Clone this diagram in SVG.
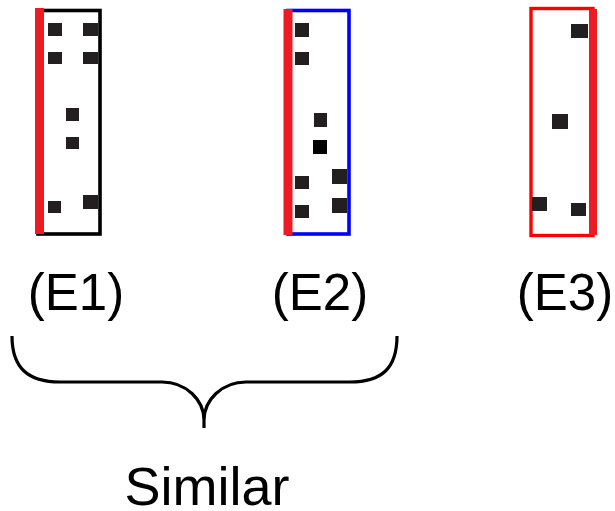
<svg xmlns="http://www.w3.org/2000/svg" width="615" height="511" viewBox="0 0 615 511">
  <style>
    .sq { fill: #231f20; }
    .bar { fill: #ed1c24; }
    .lbl { font-family: "Liberation Sans", Arial, sans-serif; font-size: 51px; fill: #000; text-anchor: middle; }
    .brace { fill: none; stroke: #000; stroke-width: 3.2; stroke-linecap: butt; }
  </style>
  <rect width="615" height="511" fill="#fff"/>

  <!-- E1 -->
  <g id="e1">
    <rect x="38" y="10.5" width="62" height="223.5" fill="none" stroke="#000" stroke-width="3.6"/>
    <rect class="bar" x="35" y="8" width="9" height="226"/>
    <rect class="sq" x="48" y="23" width="14" height="13"/>
    <rect class="sq" x="83" y="23" width="15" height="13"/>
    <rect class="sq" x="48" y="52" width="14" height="12"/>
    <rect class="sq" x="83" y="52" width="15" height="12"/>
    <rect class="sq" x="66" y="108" width="13" height="13"/>
    <rect class="sq" x="66" y="137" width="13" height="12"/>
    <rect class="sq" x="48" y="201" width="13" height="12"/>
    <rect class="sq" x="83" y="195" width="15" height="14"/>
  </g>

  <!-- E2 -->
  <g id="e2">
    <rect x="288" y="10.5" width="61" height="223.5" fill="none" stroke="#0000ff" stroke-width="3.6"/>
    <rect class="bar" x="283.5" y="9" width="9" height="226"/>
    <rect class="sq" x="295" y="23" width="14" height="14"/>
    <rect class="sq" x="295" y="52" width="14" height="13"/>
    <rect class="sq" x="314" y="113" width="13" height="14"/>
    <rect x="313" y="140" width="14" height="14" fill="#000"/>
    <rect class="sq" x="332" y="169" width="15" height="15"/>
    <rect class="sq" x="295" y="176" width="14" height="13"/>
    <rect class="sq" x="332" y="198" width="15" height="15"/>
    <rect class="sq" x="295" y="205" width="14" height="13"/>
  </g>

  <!-- E3 -->
  <g id="e3">
    <rect x="531" y="8.5" width="62" height="227" fill="none" stroke="#ff0000" stroke-width="3.4"/>
    <rect class="bar" x="589" y="9" width="8" height="226"/>
    <rect class="sq" x="571" y="24" width="17" height="14"/>
    <rect class="sq" x="552" y="114" width="16" height="15"/>
    <rect class="sq" x="532" y="197" width="15" height="14"/>
    <rect class="sq" x="571" y="203" width="15" height="13"/>
  </g>

  <!-- labels -->
  <g id="labels">
    <text class="lbl" x="76" y="310">(E1)</text>
    <text class="lbl" x="320" y="310">(E2)</text>
    <text class="lbl" x="565" y="310">(E3)</text>
  </g>

  <!-- brace grouping E1 and E2 -->
  <g id="connectors">
    <path class="brace" d="M12 336 C12 368 28 382 60 382 H162 C186 382 204 400 204 420 V428 M204 428 V420 C204 400 222 382 246 382 H350 C382 382 397 368 397 336"/>
  </g>

  <g id="similar">
    <text class="lbl" x="207" y="505" style="font-size:54px">Similar</text>
  </g>
</svg>
